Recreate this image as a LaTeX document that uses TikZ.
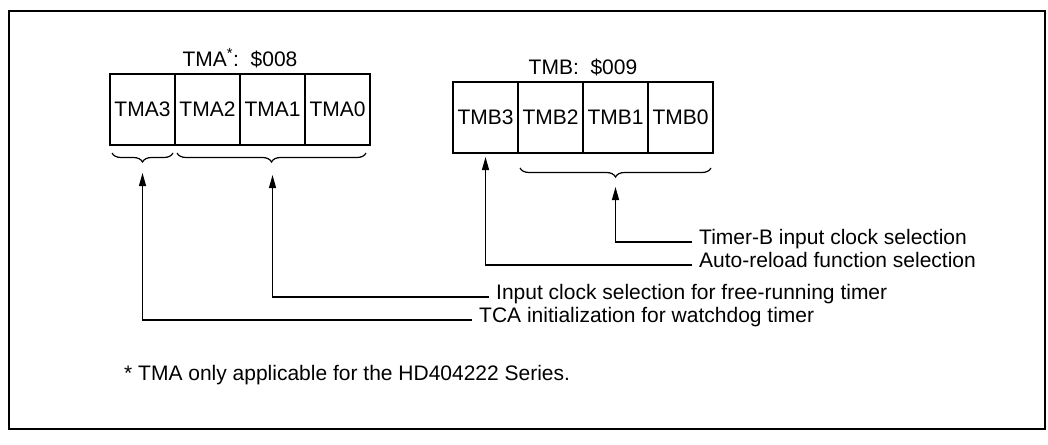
\documentclass[tikz,border=0pt]{standalone}
\usepackage{fontspec}
\setmainfont{Liberation Sans}
\usetikzlibrary{positioning, arrows.meta, decorations.pathreplacing, calc}

\begin{document}
\begin{tikzpicture}[
  x=1pt, y=-1pt,
  font=\fontsize{21}{25}\selectfont,
  bit/.style={draw=black, line width=1.4pt, outer sep=0pt, inner sep=0pt,
              minimum width=65pt, minimum height=71pt},
  ptr/.style={-{Triangle[length=13pt, width=7pt]}, line width=1.2pt, draw=black},
  brc/.style={decorate, decoration={brace, mirror, amplitude=9pt}, line width=1.2pt},
  note/.style={anchor=west, inner xsep=7pt, inner ysep=0pt,
               text height=0.72em, text depth=0.2em}
]
\useasboundingbox (0,0) rectangle (1048,444);
\draw[line width=1.6pt] (9,11) rectangle (1045,429);

% TMA register
\node[bit, anchor=north west] (tma3) at (110,74) {TMA3};
\node[bit, right=0pt of tma3] (tma2) {TMA2};
\node[bit, right=0pt of tma2] (tma1) {TMA1};
\node[bit, right=0pt of tma1] (tma0) {TMA0};
\node[above=3pt of tma2.north east] (tmatitle) {TMA\textsuperscript{*}:\ \ \$008};

% TMB register
\node[bit, anchor=north west] (tmb3) at (453,82) {TMB3};
\node[bit, right=0pt of tmb3] (tmb2) {TMB2};
\node[bit, right=0pt of tmb2] (tmb1) {TMB1};
\node[bit, right=0pt of tmb1] (tmb0) {TMB0};
\node[above=3pt of tmb2.north east] (tmbtitle) {TMB:\ \ \$009};

% braces
\draw[brc] ($(tma3.south west)+(2,8)$) -- ($(tma3.south east)+(-2,8)$);
\draw[brc] ($(tma2.south west)+(2,8)$) -- ($(tma0.south east)+(-4,8)$);
\draw[brc] ($(tmb2.south west)+(2,15)$) -- ($(tmb0.south east)+(-2,15)$);
\coordinate (tipA3) at ($(tma3.south)+(0,28)$);
\coordinate (tipA0) at ($(tma2.south east)!0.5!(tma1.south east)+(0,30)$);
\coordinate (tipB3) at ($(tmb3.south)+(0,4)$);
\coordinate (tipB0) at ($(tmb1.south)+(0,34)$);

% descriptions
\node[note] (selB) at (692,242) {Timer-B input clock selection};
\node[note] (reload) at (692,265) {Auto-reload function selection};
\node[note] (clkA) at (489,297) {Input clock selection for free-running timer};
\node[note] (tca) at (472,320) {TCA initialization for watchdog timer};
\node[note, inner xsep=0pt] (foot) at (124,378) {* TMA only applicable for the HD404222 Series.};

\draw[ptr] (selB.west) -| (tipB0);
\draw[ptr] (reload.west) -| (tipB3);
\draw[ptr] (clkA.west) -| (tipA0);
\draw[ptr] (tca.west) -| (tipA3);

\end{tikzpicture}
\end{document}
